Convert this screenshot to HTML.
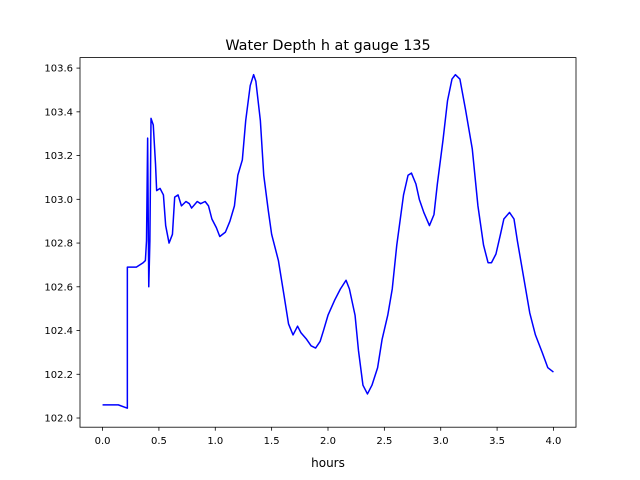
<!DOCTYPE html>
<html><head><meta charset="utf-8"><style>
body{margin:0;background:#fff;}
svg{display:block;font-family:"DejaVu Sans","Liberation Sans",sans-serif;}
</style></head><body>
<svg id="chart" width="640" height="480" viewBox="0 0 640 480">
<rect x="0" y="0" width="640" height="480" fill="#fff"/>
<text x="328" y="50" text-anchor="middle" font-size="14.4">Water Depth h at gauge 135</text>
<text x="328" y="467" text-anchor="middle" font-size="12">hours</text>
<g id="axes"></g>
</svg>
<script>
const hours=[0,0.14,0.22,0.22,0.30,0.36,0.38,0.39,0.40,0.41,0.42,0.43,0.45,0.47,0.48,0.51,0.54,0.56,0.59,0.62,0.64,0.67,0.70,0.74,0.77,0.79,0.84,0.87,0.91,0.94,0.97,1.01,1.04,1.09,1.13,1.17,1.20,1.24,1.27,1.31,1.34,1.36,1.40,1.43,1.47,1.50,1.56,1.61,1.65,1.69,1.73,1.76,1.81,1.85,1.89,1.93,1.96,2.00,2.06,2.11,2.16,2.19,2.24,2.27,2.31,2.35,2.39,2.44,2.48,2.53,2.57,2.61,2.67,2.71,2.74,2.78,2.81,2.85,2.90,2.94,2.97,3.02,3.06,3.10,3.13,3.17,3.22,3.28,3.33,3.38,3.42,3.45,3.49,3.53,3.56,3.61,3.65,3.68,3.74,3.79,3.84,3.90,3.95,4.00];
const depth=[102.06,102.06,102.045,102.69,102.69,102.71,102.72,102.81,103.28,102.60,102.81,103.37,103.34,103.16,103.04,103.05,103.02,102.88,102.80,102.84,103.01,103.02,102.97,102.99,102.98,102.96,102.99,102.98,102.99,102.97,102.91,102.87,102.83,102.85,102.90,102.97,103.11,103.18,103.36,103.52,103.57,103.54,103.36,103.11,102.95,102.84,102.72,102.56,102.43,102.38,102.42,102.39,102.36,102.33,102.32,102.35,102.40,102.47,102.54,102.59,102.63,102.59,102.47,102.31,102.15,102.11,102.15,102.23,102.36,102.47,102.59,102.79,103.02,103.11,103.12,103.07,103.00,102.94,102.88,102.93,103.07,103.27,103.45,103.55,103.57,103.55,103.41,103.23,102.97,102.79,102.71,102.71,102.75,102.84,102.91,102.94,102.91,102.81,102.63,102.48,102.38,102.30,102.23,102.21];
const xTicks=["0.0","0.5","1.0","1.5","2.0","2.5","3.0","3.5","4.0"];
const yTicks=["102.0","102.2","102.4","102.6","102.8","103.0","103.2","103.4","103.6"];
const L=80,R=576,T=57.6,B=427.2;
const xmin=-0.2,xmax=4.2,ymin=101.958,ymax=103.648;
const sx=v=>L+(v-xmin)/(xmax-xmin)*(R-L);
const sy=v=>B-(v-ymin)/(ymax-ymin)*(B-T);
const NS="http://www.w3.org/2000/svg";
const g=document.getElementById('axes');
function mk(t,a){const e=document.createElementNS(NS,t);for(const k in a)e.setAttribute(k,a[k]);g.appendChild(e);return e;}
let d=hours.map((h,i)=>(i?'L':'M')+sx(h).toFixed(2)+' '+sy(depth[i]).toFixed(2)).join(' ');
const line=mk('path',{d:d,fill:'none',stroke:'#0000ff','stroke-width':1.5,'stroke-linejoin':'round'});


const frame=mk('rect',{x:L,y:T,width:R-L,height:B-T,fill:'none',stroke:'#000','stroke-width':0.8});


xTicks.forEach(t=>{const x=sx(parseFloat(t));
 mk('line',{x1:x,x2:x,y1:B,y2:B+3.5,stroke:'#000','stroke-width':0.8});
 const e=mk('text',{x:x,y:B+17,'text-anchor':'middle','font-size':10});e.textContent=t;
 
 });
yTicks.forEach(t=>{const y=sy(parseFloat(t));
 mk('line',{x1:L-3.5,x2:L,y1:y,y2:y,stroke:'#000','stroke-width':0.8});
 const e=mk('text',{x:L-7,y:y+3.5,'text-anchor':'end','font-size':10});e.textContent=t;
 
 });
</script>
</body></html>
